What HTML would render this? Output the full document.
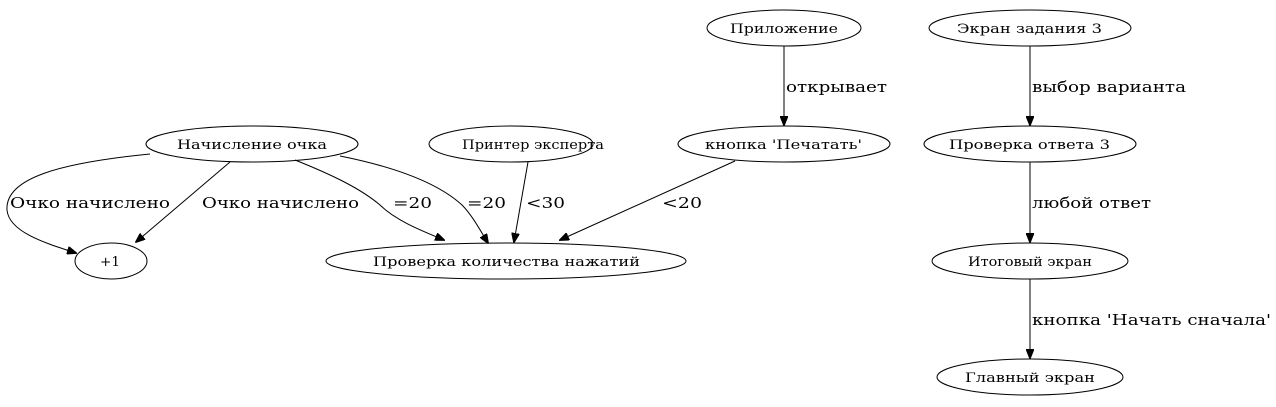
<!DOCTYPE html>
<html><head><meta charset="utf-8"><style>
html,body{margin:0;padding:0;background:#fff;width:1276px;height:407px;overflow:hidden}
text{font-family:"DejaVu Serif","Liberation Serif",serif;fill:#000}
.n{font-size:13px}
.e{font-size:15px}
ellipse{fill:none;stroke:#000;stroke-width:1}
path.l{fill:none;stroke:#000;stroke-width:1}
path.h{fill:#000;stroke:#000}
</style></head><body>
<svg width="1276" height="407" viewBox="0 0 1276 407" xmlns="http://www.w3.org/2000/svg">
<defs><marker id="a" markerWidth="10" markerHeight="8" refX="9" refY="4" orient="auto" markerUnits="userSpaceOnUse"><path class="h" d="M0,0 L10,4 L0,8 Z"/></marker></defs>

<ellipse cx="784" cy="28" rx="77" ry="18"/><text class="n" x="730" y="33" textLength="108" lengthAdjust="spacingAndGlyphs">Приложение</text>
<ellipse cx="1030" cy="28" rx="101" ry="18"/><text class="n" x="957" y="33" textLength="145" lengthAdjust="spacingAndGlyphs">Экран задания 3</text>
<ellipse cx="252" cy="144" rx="106" ry="18"/><text class="n" x="177" y="149" textLength="150" lengthAdjust="spacingAndGlyphs">Начисление очка</text>
<ellipse cx="511" cy="144" rx="82" ry="18"/><text class="n" x="462" y="149" textLength="142" lengthAdjust="spacingAndGlyphs">Принтер эксперта</text>
<ellipse cx="784" cy="144" rx="106" ry="18"/><text class="n" x="705" y="149" textLength="157" lengthAdjust="spacingAndGlyphs">кнопка 'Печатать'</text>
<ellipse cx="1030" cy="144" rx="106" ry="18"/><text class="n" x="949" y="149" textLength="161" lengthAdjust="spacingAndGlyphs">Проверка ответа 3</text>
<ellipse cx="111" cy="261" rx="36" ry="18"/><text class="n" x="100" y="266" textLength="20" lengthAdjust="spacingAndGlyphs">+1</text>
<ellipse cx="506" cy="261" rx="180" ry="18"/><text class="n" x="373" y="266" textLength="267" lengthAdjust="spacingAndGlyphs">Проверка количества нажатий</text>
<ellipse cx="1030" cy="261" rx="98" ry="18"/><text class="n" x="968" y="266" textLength="124" lengthAdjust="spacingAndGlyphs">Итоговый экран</text>
<ellipse cx="1030" cy="377" rx="93" ry="18"/><text class="n" x="965" y="382" textLength="130" lengthAdjust="spacingAndGlyphs">Главный экран</text>

<path class="l" d="M784,46 L784,125" marker-end="url(#a)"/><text class="e" x="786" y="92" textLength="101" lengthAdjust="spacingAndGlyphs">открывает</text>
<path class="l" d="M1030,46 L1030,125" marker-end="url(#a)"/><text class="e" x="1032" y="92" textLength="154" lengthAdjust="spacingAndGlyphs">выбор варианта</text>
<path class="l" d="M1030,162 L1030,242" marker-end="url(#a)"/><text class="e" x="1032" y="208" textLength="119" lengthAdjust="spacingAndGlyphs">любой ответ</text>
<path class="l" d="M1030,279 L1030,358" marker-end="url(#a)"/><text class="e" x="1032" y="325" textLength="239" lengthAdjust="spacingAndGlyphs">кнопка 'Начать сначала'</text>

<path class="l" d="M150,154 C60,163 5,178 7,210 C9,232 45,243 76,253" marker-end="url(#a)"/><text class="e" x="10" y="208" textLength="160" lengthAdjust="spacingAndGlyphs">Очко начислено</text>
<path class="l" d="M230,162 L136,242" marker-end="url(#a)"/><text class="e" x="202" y="208" textLength="157" lengthAdjust="spacingAndGlyphs">Очко начислено</text>
<path class="l" d="M295,160 C330,174 360,188 380,205 C395,220 420,230 444,240" marker-end="url(#a)"/><text class="e" x="393" y="208" textLength="39" lengthAdjust="spacingAndGlyphs">=20</text>
<path class="l" d="M340,156 C400,168 440,185 462,205 C472,215 480,230 488,243" marker-end="url(#a)"/><text class="e" x="467" y="208" textLength="39" lengthAdjust="spacingAndGlyphs">=20</text>
<path class="l" d="M528,162 L514,242" marker-end="url(#a)"/><text class="e" x="526" y="208" textLength="39" lengthAdjust="spacingAndGlyphs">&lt;30</text>
<path class="l" d="M735,161 L560,240" marker-end="url(#a)"/><text class="e" x="662" y="208" textLength="40" lengthAdjust="spacingAndGlyphs">&lt;20</text>
</svg>
</body></html>
